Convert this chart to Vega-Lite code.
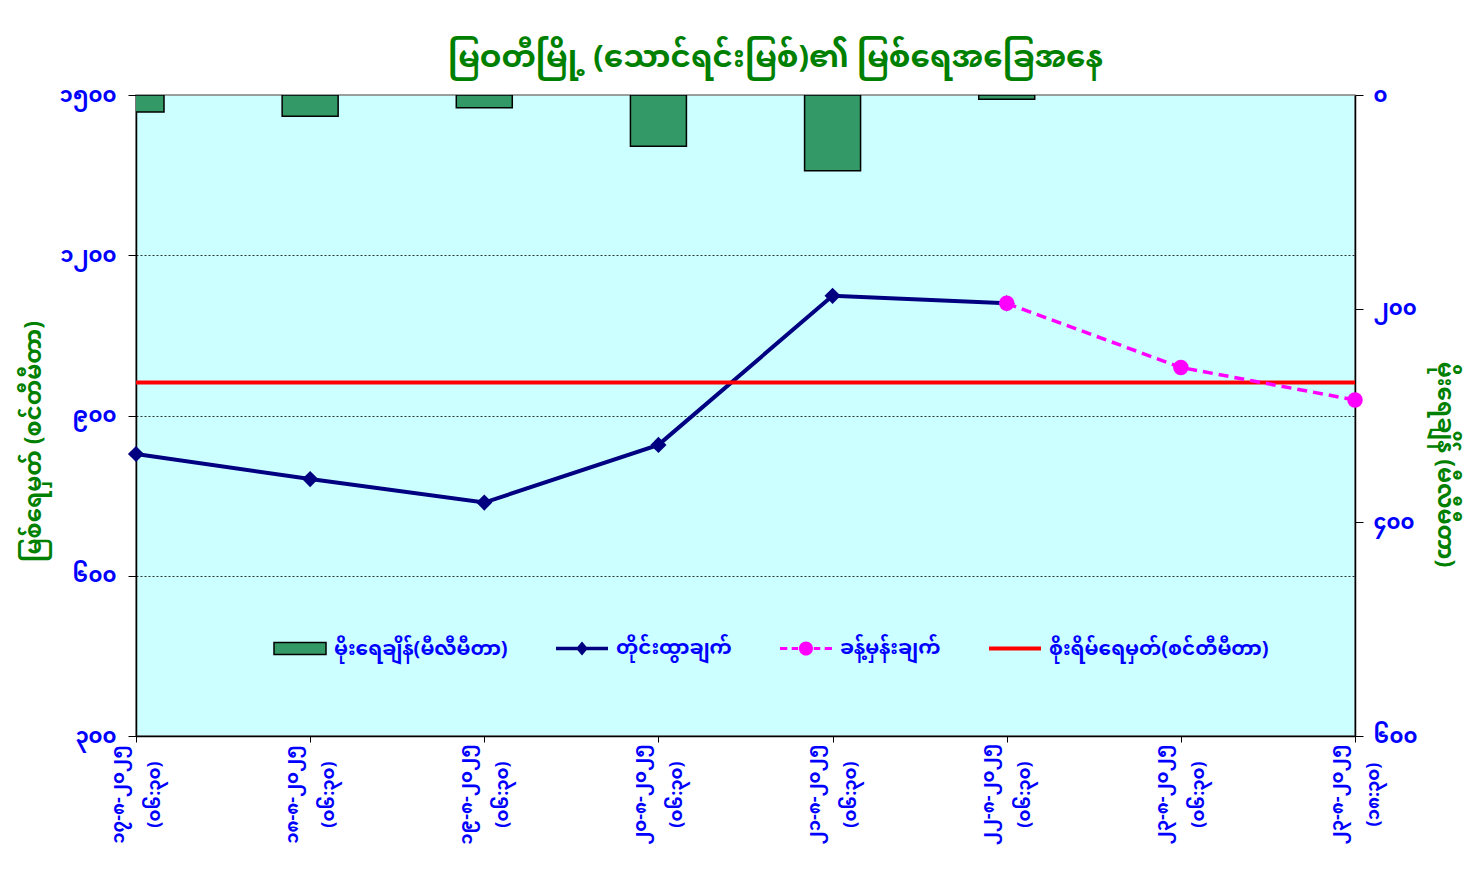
{
  "$schema": "https://vega.github.io/schema/vega-lite/v6.json",
  "width": 1219,
  "height": 641,
  "autosize": "none",
  "padding": {"left": 136, "top": 95, "right": 119, "bottom": 150},
  "background": "white",
  "title": {
    "text": "မြဝတီမြို့ (သောင်ရင်းမြစ်)၏ မြစ်ရေအခြေအနေ",
    "fontSize": 31,
    "fontWeight": "bold",
    "color": "#008000",
    "offset": 10,
    "dx": 30
  },
  "config": {
    "font": "Noto Sans Myanmar, Padauk, Myanmar3, Noto Sans",
    "view": {"fill": "#CCFFFF", "stroke": "#808080", "strokeWidth": 1.5},
    "axis": {
      "labelColor": "#0000FF",
      "labelFontWeight": "bold",
      "labelFontSize": 21,
      "titleColor": "#008000",
      "titleFontWeight": "bold",
      "titleFontSize": 23,
      "domainColor": "black",
      "domainWidth": 1.5,
      "tickColor": "black",
      "tickSize": 8
    }
  },
  "data": {
    "values": [
      {"t": "၁၇-၈-၂၀၂၅ (၀၆:၃၀)", "level": 828, "forecast": null, "rain": 16, "danger": 962},
      {"t": "၁၈-၈-၂၀၂၅ (၀၆:၃၀)", "level": 781, "forecast": null, "rain": 20, "danger": 962},
      {"t": "၁၉-၈-၂၀၂၅ (၀၆:၃၀)", "level": 737, "forecast": null, "rain": 12, "danger": 962},
      {"t": "၂၀-၈-၂၀၂၅ (၀၆:၃၀)", "level": 845, "forecast": null, "rain": 48, "danger": 962},
      {"t": "၂၁-၈-၂၀၂၅ (၀၆:၃၀)", "level": 1124, "forecast": null, "rain": 71, "danger": 962},
      {"t": "၂၂-၈-၂၀၂၅ (၀၆:၃၀)", "level": 1110, "forecast": 1110, "rain": 4, "danger": 962},
      {"t": "၂၃-၈-၂၀၂၅ (၀၆:၃၀)", "level": null, "forecast": 990, "rain": null, "danger": 962},
      {"t": "၂၃-၈-၂၀၂၅ (၁၈:၃၀)", "level": null, "forecast": 929, "rain": null, "danger": 962}
    ]
  },
  "encoding": {
    "x": {
      "field": "t",
      "type": "ordinal",
      "sort": null,
      "scale": {"type": "point", "padding": 0},
      "axis": {
        "title": null,
        "labelExpr": "split(datum.label, ' ')",
        "labelAngle": -90,
        "labelAlign": "center",
        "labelBaseline": "middle",
        "labelPadding": 52,
        "labelOffset": -18,
        "labelFontSize": 18,
        "labelLineHeight": 36,
        "labelOverlap": false,
        "labelBound": false,
        "labelFlush": false,
        "tickSize": 6
      }
    }
  },
  "layer": [
    {
      "encoding": {
        "y": {
          "field": "rain",
          "type": "quantitative",
          "scale": {"domain": [0, 600], "reverse": true, "nice": false},
          "axis": {
            "orient": "right",
            "title": "မိုးရေချိန် (မီလီမီတာ)",
            "values": [0, 200, 400, 600],
            "labelExpr": "datum.value == 0 ? '၀' : datum.value == 200 ? '၂၀၀' : datum.value == 400 ? '၄၀၀' : '၆၀၀'",
            "labelPadding": 10,
            "titlePadding": 16,
            "titleY": 369,
            "grid": false
          }
        }
      },
      "layer": [
        {
          "mark": {"type": "bar", "width": 56, "clip": true},
          "encoding": {
            "color": {
              "datum": "rain",
              "type": "nominal",
              "scale": {
                "domain": ["rain", "observed", "forecast", "danger"],
                "range": ["#339966", "#000080", "#FF00FF", "#FF0000"]
              },
              "legend": {
                "title": null,
                "orient": "none",
                "legendX": 137,
                "legendY": 526,
                "direction": "horizontal",
                "columns": 4,
                "padding": 0,
                "columnPadding": 45,
                "labelOffset": 7,
                "symbolSize": 2704,
                "symbolType": {"expr": "datum.value == 'rain' ? 'M-1,-0.23H1V0.23H-1Z' : datum.value == 'observed' ? 'M-1,-0.07H1V0.07H-1Z M0,-0.27L0.23,0L0,0.27L-0.23,0Z' : datum.value == 'forecast' ? 'M-1,-0.06H-0.72V0.06H-1Z M-0.55,-0.06H-0.3V0.06H-0.55Z M0.3,-0.06H0.55V0.06H0.3Z M0.72,-0.06H1V0.06H0.72Z M-0.27,0A0.27,0.27 0 1,1 0.27,0A0.27,0.27 0 1,1 -0.27,0Z' : 'M-1,-0.08H1V0.08H-1Z'"},
                "symbolStrokeColor": {"expr": "datum.value == 'rain' ? 'black' : 'transparent'"},
                "symbolStrokeWidth": 1.5,
                "labelFontSize": 20,
                "labelFontWeight": "bold",
                "labelColor": "#0000FF",
                "labelLimit": 400,
                "labelExpr": "datum.value == 'rain' ? 'မိုးရေချိန်(မီလီမီတာ)' : datum.value == 'observed' ? 'တိုင်းထွာချက်' : datum.value == 'forecast' ? 'ခန့်မှန်းချက်' : 'စိုးရိမ်ရေမှတ်(စင်တီမီတာ)'"
              }
            }
          }
        },
        {
          "mark": {"type": "bar", "width": 56, "clip": true, "fillOpacity": 0, "stroke": "black", "strokeWidth": 1.5}
        }
      ]
    },
    {
      "layer": [
        {
          "mark": {"type": "line", "color": "#000080", "strokeWidth": 4},
          "encoding": {
            "y": {
              "field": "level",
              "type": "quantitative",
              "scale": {"domain": [300, 1500], "nice": false, "zero": false},
              "axis": {
                "orient": "left",
                "title": "မြစ်ရေမှတ် (စင်တီမီတာ)",
                "values": [300, 600, 900, 1200, 1500],
                "labelExpr": "datum.value == 300 ? '၃၀၀' : datum.value == 600 ? '၆၀၀' : datum.value == 900 ? '၉၀၀' : datum.value == 1200 ? '၁၂၀၀' : '၁၅၀၀'",
                "labelPadding": 12,
                "titlePadding": 13,
                "titleY": 346,
                "grid": true,
                "gridColor": "black",
                "gridDash": [2, 2],
                "gridWidth": 0.8,
                "gridOpacity": {"condition": {"test": "datum.value == 300 || datum.value == 1500", "value": 0}, "value": 1}
              }
            }
          }
        },
        {
          "mark": {"type": "point", "filled": true, "shape": "diamond", "size": 260, "color": "#000080", "opacity": 1},
          "encoding": {"y": {"field": "level", "type": "quantitative"}}
        },
        {
          "mark": {"type": "line", "color": "#FF0000", "strokeWidth": 4},
          "encoding": {"y": {"field": "danger", "type": "quantitative"}}
        },
        {
          "mark": {"type": "line", "color": "#FF00FF", "strokeWidth": 3.5, "strokeDash": [10, 6]},
          "encoding": {"y": {"field": "forecast", "type": "quantitative"}}
        },
        {
          "mark": {"type": "point", "filled": true, "shape": "circle", "size": 240, "color": "#FF00FF", "opacity": 1},
          "encoding": {"y": {"field": "forecast", "type": "quantitative"}}
        }
      ]
    }
  ],
  "resolve": {"scale": {"y": "independent"}}
}
